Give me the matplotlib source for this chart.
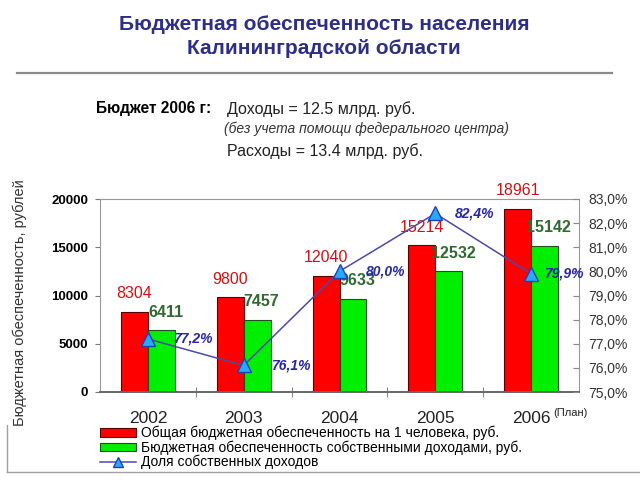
import numpy as np
import matplotlib
matplotlib.use("Agg")
import matplotlib.pyplot as plt
from matplotlib.lines import Line2D

plt.rcParams['font.family'] = ['Liberation Sans', 'DejaVu Sans']

years = ['2002', '2003', '2004', '2005', '2006']
total_per_person = [8304, 9800, 12040, 15214, 18961]
own_per_person = [6411, 7457, 9633, 12532, 15142]
own_share = [77.2, 76.1, 80.0, 82.4, 79.9]

left_ticks = [0, 5000, 10000, 15000, 20000]
right_ticks = [75, 76, 77, 78, 79, 80, 81, 82, 83]

legend_labels = ['Общая бюджетная обеспеченность на 1 человека, руб.',
                 'Бюджетная обеспеченность собственными доходами, руб.',
                 'Доля собственных доходов']

W, H = 640, 480
fig = plt.figure(figsize=(6.4, 4.8), dpi=100)

def fx(px):
    return px / W

def fy(py):
    return 1 - py / H

# header
fig.text(fx(324), fy(25), 'Бюджетная обеспеченность населения', ha='center', va='center',
         fontsize=15, fontweight='bold', color='#2e2e86')
fig.text(fx(324), fy(48), 'Калининградской области', ha='center', va='center',
         fontsize=15, fontweight='bold', color='#2e2e86')
fig.add_artist(Line2D([fx(17), fx(612)], [fy(73), fy(73)], color='#8a8a8a', lw=1.6))

fig.text(fx(96), fy(109), 'Бюджет 2006 г:', ha='left', va='center', fontsize=11.2, fontweight='bold')
fig.text(fx(227), fy(109), 'Доходы = 12.5 млрд. руб.', ha='left', va='center', fontsize=11.5, color='#222222')
fig.text(fx(224), fy(129), '(без учета помощи федерального центра)', ha='left', va='center',
         fontsize=10, style='italic', color='#333333')
fig.text(fx(227), fy(151), 'Расходы = 13.4 млрд. руб.', ha='left', va='center', fontsize=11.5, color='#222222')

# chart
ax = fig.add_axes([fx(100), 88 / H, 479 / W, 193 / H])
x = np.arange(len(years))
bw = 0.28
red = ax.bar(x - bw / 2, total_per_person, bw, color='#ff0000', edgecolor='#5a0000', lw=0.8)
green = ax.bar(x + bw / 2, own_per_person, bw, color='#00ee00', edgecolor='#1f4f1f', lw=0.8)

for xi, v in zip(x, total_per_person):
    ax.annotate(str(v), (xi - bw / 2, v), xytext=(0, 13), textcoords='offset points',
                ha='center', va='center', fontsize=11.5, color='#cc1414')
for xi, v in zip(x, own_per_person):
    ax.annotate(str(v), (xi + bw / 2, v), xytext=(3, 13), textcoords='offset points',
                ha='center', va='center', fontsize=11.5, fontweight='bold', color='#2f6a2f')

ax.set_xlim(-0.5, len(years) - 0.5)
ax.set_ylim(0, 20000)
ax.set_yticks(left_ticks)
ax.set_yticklabels([str(t) for t in left_ticks], fontweight='bold', fontsize=9.5)
ax.tick_params(axis='y', direction='out', length=3.5, color='#777777', pad=5)

ax.set_xticks(np.arange(0.5, len(years) - 0.5, 1))
ax.set_xticklabels([])
ax.tick_params(axis='x', direction='inout', length=7, color='#888888')
ax.set_xticks(x, minor=True)
ax.set_xticklabels(years, minor=True, fontsize=12.5, color='#222222')
ax.tick_params(axis='x', which='minor', length=0, pad=14)

for s in ['left', 'top', 'right']:
    ax.spines[s].set_color('#999999')
ax.spines['bottom'].set_color('#666666')
ax.spines['bottom'].set_linewidth(1.4)

fig.text(fx(553), fy(413), '(План)', ha='left', va='center', fontsize=8, color='#222222')
fig.text(fx(20), fy(303), 'Бюджетная обеспеченность, рублей', rotation=90, ha='center', va='center',
         fontsize=10.5, color='#333333')

ax2 = ax.twinx()
line, = ax2.plot(x, own_share, color='#4a4aa8', lw=1.1, marker='^', markersize=10,
                 markerfacecolor='#2aa8ff', markeredgecolor='#2040b8', markeredgewidth=1)
ax2.set_ylim(75, 83)
ax2.set_yticks(right_ticks)
ax2.set_yticklabels([f'{t:.1f}%'.replace('.', ',') for t in right_ticks], fontsize=10, color='#333333')
ax2.tick_params(axis='y', direction='in', length=4.5, color='#888888', pad=7)
for s in ['left', 'top', 'right', 'bottom']:
    ax2.spines[s].set_visible(False)

pct_dx = [25, 27, 26, 20, 13]
for xi, v, dx in zip(x, own_share, pct_dx):
    ax2.annotate(f'{v:.1f}%'.replace('.', ','), (xi, v), xytext=(dx * 0.72, 0), textcoords='offset points',
                 ha='left', va='center', fontsize=10, fontweight='bold', style='italic', color='#2626a0')

# legend area
fig.add_artist(Line2D([fx(7), fx(7)], [fy(425), fy(472)], color='#a0a0a0', lw=1))
fig.add_artist(Line2D([fx(7), fx(640)], [fy(472), fy(472)], color='#a0a0a0', lw=1))
fig.legend([red, green, line], legend_labels, loc='upper left',
           bbox_to_anchor=(fx(100), fy(426)), frameon=False, fontsize=10,
           labelspacing=0.0, handlelength=2.6, handleheight=0.55, handletextpad=0.35,
           markerscale=0.7, borderpad=0, borderaxespad=0)

fig.savefig('out.png', dpi=100)
